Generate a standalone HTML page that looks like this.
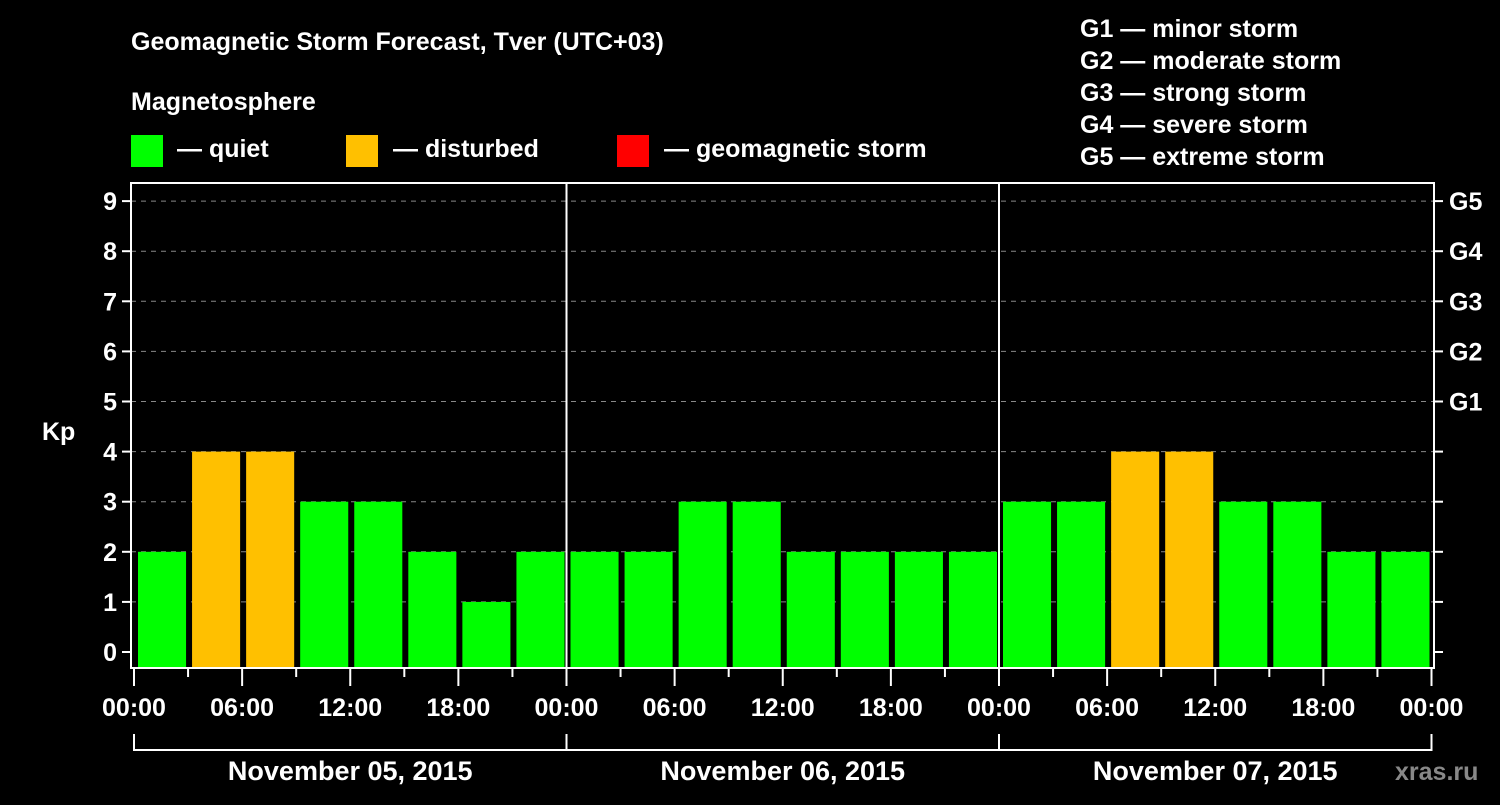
<!DOCTYPE html>
<html><head><meta charset="utf-8"><style>
body{margin:0;background:#000;}
svg text{font-family:"Liberation Sans",sans-serif;font-weight:bold;fill:#fff;}
</style></head><body>
<svg width="1500" height="800">
<rect width="1500" height="800" fill="#000"/>
<text x="131" y="50" font-size="25">Geomagnetic Storm Forecast, Tver (UTC+03)</text>
<text x="131" y="110" font-size="25">Magnetosphere</text>
<g>
<rect x="131" y="135" width="32" height="32" fill="#00ff00"/>
<text x="177" y="157" font-size="25">— quiet</text>
<rect x="346" y="135" width="32" height="32" fill="#ffc000"/>
<text x="393" y="157" font-size="25">— disturbed</text>
<rect x="617" y="135" width="32" height="32" fill="#ff0000"/>
<text x="664" y="157" font-size="25">— geomagnetic storm</text>
</g>
<g font-size="25">
<text x="1080" y="37">G1 — minor storm</text>
<text x="1080" y="69">G2 — moderate storm</text>
<text x="1080" y="101">G3 — strong storm</text>
<text x="1080" y="133">G4 — severe storm</text>
<text x="1080" y="165">G5 — extreme storm</text>
</g>
<text x="42" y="440" font-size="25">Kp</text>
<text x="1395" y="780" font-size="25" fill="#888" style="fill:#888">xras.ru</text>
<g id="plot"></g>
</svg>
<script>
const values = [2,4,4,3,3,2,1,2, 2,2,3,3,2,2,2,2, 3,3,4,4,3,3,2,2];
const yTicks = [0,1,2,3,4,5,6,7,8,9];
const gLabels = ["G1","G2","G3","G4","G5"];
const gLevels = [5,6,7,8,9];
const hourLabels = ["00:00","06:00","12:00","18:00"];
const days = ["November 05, 2015","November 06, 2015","November 07, 2015"];

const X0=134, DAYW=432.5, Y0=652, UNIT=50.1, BOTTOM=668, TOP=183, RIGHT=1434, LEFT=131;
const xh = h => X0 + h/24*DAYW;
const y = v => Y0 - v*UNIT;
const NS="http://www.w3.org/2000/svg";
const g=document.getElementById('plot');
function mk(t,a){const e=document.createElementNS(NS,t);for(const k in a)e.setAttribute(k,a[k]);g.appendChild(e);return e;}

yTicks.forEach(v=>{
  if(v>0){const l=mk('line',{x1:LEFT,x2:RIGHT,y1:y(v),y2:y(v),stroke:'#888','stroke-width':1,'stroke-dasharray':'5,5'});
  
  }
  const t=mk('line',{x1:LEFT-9,x2:LEFT,y1:y(v),y2:y(v),stroke:'#fff','stroke-width':2});
  
  
  const r=mk('line',{x1:RIGHT,x2:RIGHT+9,y1:y(v),y2:y(v),stroke:'#fff','stroke-width':2});
  
  
  const tx=mk('text',{x:LEFT-14,y:y(v)+9,'font-size':25,'text-anchor':'end'});
  tx.textContent=v;
  
  
});
gLabels.forEach((s,i)=>{
  const tx=mk('text',{x:RIGHT+15,y:y(gLevels[i])+9,'font-size':25});
  tx.textContent=s;
  
  
});
values.forEach((v,i)=>{
  const col=v>=5?'#ff0000':(v>=4?'#ffc000':'#00ff00');
  const x1=xh(i*3)+4, x2=xh(i*3+3)-2;
  const b=mk('rect',{x:x1,y:y(v),width:x2-x1,height:BOTTOM-y(v),fill:col});
  
  
});
// frame
const f=mk('rect',{x:LEFT,y:TOP,width:RIGHT-LEFT,height:BOTTOM-TOP,fill:'none',stroke:'#fff','stroke-width':2});


for(let d=1;d<3;d++){
  const l=mk('line',{x1:xh(d*24),x2:xh(d*24),y1:TOP,y2:BOTTOM,stroke:'#fff','stroke-width':2});
  
  
}
for(let h=0;h<=72;h+=3){
  const major=h%6===0;
  const t=mk('line',{x1:xh(h),x2:xh(h),y1:BOTTOM,y2:BOTTOM+(major?18:9),stroke:'#fff','stroke-width':2});
  
  
  if(major && (h%24===0 || h%6===0)){
    const tx=mk('text',{x:xh(h),y:716,'font-size':25,'text-anchor':'middle'});
    tx.textContent=hourLabels[(h%24)/6];
    
    
  }
}
days.forEach((s,d)=>{
  const a=xh(d*24), b=xh(d*24+24);
  const p=mk('path',{d:`M${a},734 V750 H${b} V734`,fill:'none',stroke:'#fff','stroke-width':2});
  
  
  const tx=mk('text',{x:(a+b)/2,y:780,'font-size':27,'text-anchor':'middle'});
  tx.textContent=s;
  
  
});
</script>
</body></html>
